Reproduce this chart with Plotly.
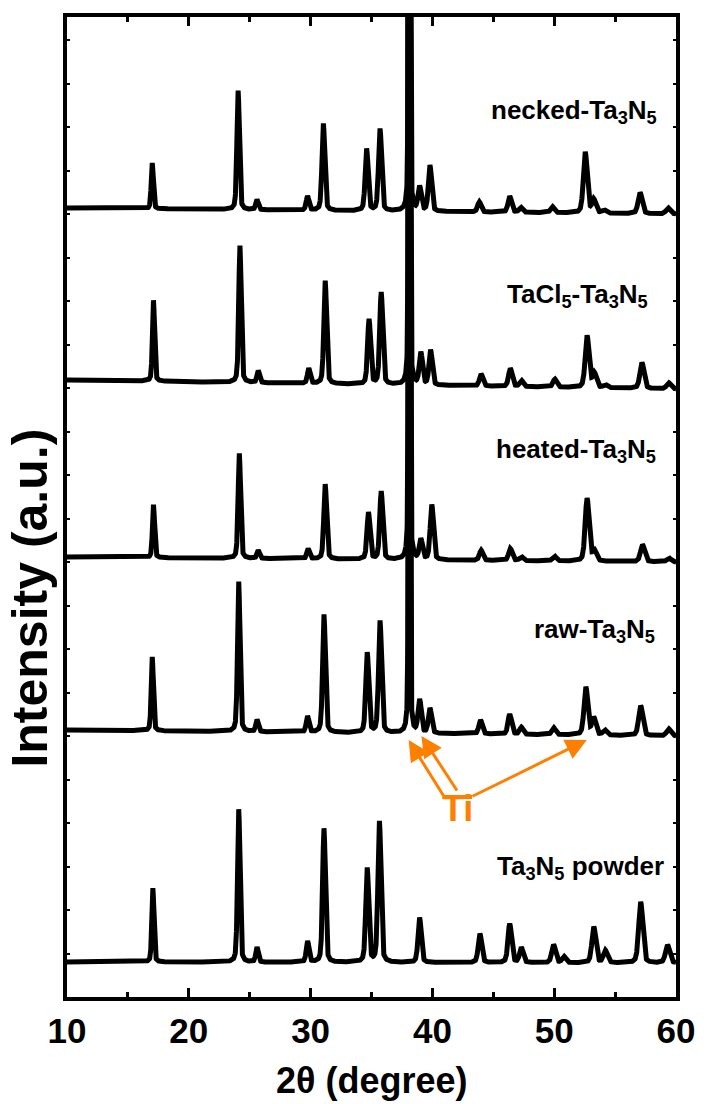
import numpy as np
import plotly.graph_objects as go

# ---------------- data ----------------
sample_labels = [
    "necked-Ta<sub>3</sub>N<sub>5</sub>",
    "TaCl<sub>5</sub>-Ta<sub>3</sub>N<sub>5</sub>",
    "heated-Ta<sub>3</sub>N<sub>5</sub>",
    "raw-Ta<sub>3</sub>N<sub>5</sub>",
    "Ta<sub>3</sub>N<sub>5</sub> powder",
]
# baseline level (stacked offset, a.u.) at 2θ = 10 and 2θ = 60
baseline_start = [789, 617, 440, 267, 35]
baseline_end = [783, 608, 435, 261, 34]

necked_pos = [17.0, 24.05, 25.6, 29.75, 31.05, 34.6, 35.7, 38.95, 39.8, 43.85, 46.35, 47.25, 49.85, 52.55, 53.25, 54.1, 57.05, 59.35]
necked_int = [46, 119, 10, 14, 87, 62, 82, 24, 46, 10, 16, 5, 6, 61, 13, 3, 21, 6]

tacl5_pos = [17.1, 24.2, 25.7, 29.85, 31.2, 34.8, 35.8, 39.05, 39.85, 44.0, 46.4, 47.3, 50.05, 52.7, 53.3, 54.2, 57.2, 59.4]
tacl5_int = [81, 137, 12, 15, 103, 65, 92, 32, 35, 12, 18, 6, 8, 52, 14, 3, 26, 6]

heated_pos = [17.1, 24.15, 25.7, 29.8, 31.2, 34.75, 35.8, 39.05, 39.95, 44.0, 46.4, 47.3, 50.0, 52.7, 53.3, 57.25, 59.4]
heated_int = [53, 105, 8, 10, 75, 47, 68, 20, 55, 10, 12, 4, 5, 63, 10, 17, 4]

raw_pos = [17.0, 24.1, 25.6, 29.75, 31.1, 34.65, 35.7, 38.95, 39.8, 43.95, 46.35, 47.3, 49.95, 52.6, 53.25, 54.15, 57.1, 59.4]
raw_int = [74, 150, 12, 16, 118, 80, 112, 33, 25, 14, 20, 7, 7, 48, 17, 5, 30, 7]

powder_pos = [17.05, 24.1, 25.6, 29.75, 31.1, 34.65, 35.65, 38.95, 43.9, 46.35, 47.3, 49.95, 50.8, 53.25, 54.2, 57.1, 59.3]
powder_int = [74, 153, 15, 21, 134, 94, 141, 45, 29, 39, 15, 18, 6, 36, 12, 61, 18]

# Ti reflection at 38.1° (runs off the top of the frame)
ti_pos = 38.1
ti_int = [1400, 1400, 1400, 1400, 0]

x_ticks = [10, 20, 30, 40, 50, 60]

series_pos = [necked_pos, tacl5_pos, heated_pos, raw_pos, powder_pos]
series_int = [necked_int, tacl5_int, heated_int, raw_int, powder_int]

# ---------------- rendering ----------------
grid = np.linspace(10, 60, 5001)


def peak(x, x0, h, fwhm, eta=0.35):
    d = (x - x0) / fwhm
    g = np.exp(-4 * np.log(2) * d * d)
    lo = 1.0 / (1.0 + 4 * d * d)
    return h * (eta * lo + (1 - eta) * g)


fig = go.Figure()
for i in range(5):
    y = np.interp(grid, [10, 60], [baseline_start[i], baseline_end[i]])
    for p, h in zip(series_pos[i], series_int[i]):
        fw = 0.17 + 0.0045 * (p - 10)
        y = y + peak(grid, p, h, fw)
    if ti_int[i] > 0:
        y = y + peak(grid, ti_pos, ti_int[i], 0.12, 0.2)
    fig.add_trace(go.Scatter(x=grid, y=y, mode="lines",
                             line=dict(color="black", width=5),
                             showlegend=False, hoverinfo="skip"))

FONT = "Liberation Sans, Arial, sans-serif"

fig.update_layout(
    width=707, height=1104,
    margin=dict(l=67, r=25, t=17, b=107),
    plot_bgcolor="white", paper_bgcolor="white",
    font=dict(family=FONT, color="black"),
    showlegend=False,
)

fig.update_xaxes(
    range=[10, 60], tickvals=x_ticks, ticktext=[str(v) for v in x_ticks],
    ticks="inside", ticklen=9, tickwidth=3, tickcolor="black",
    showline=True, linewidth=4, linecolor="black", mirror="ticks",
    showgrid=False, zeroline=False,
    tickfont=dict(family=FONT, size=35, weight="bold"),
    minor=dict(tickvals=[15, 25, 35, 45, 55], ticks="inside", ticklen=5,
               tickwidth=3, tickcolor="black", showgrid=False),
    ticklabelstandoff=0,
)
fig.update_yaxes(
    range=[0, 980], showticklabels=False, tick0=0, dtick=43.5,
    ticks="inside", ticklen=3, tickwidth=2, tickcolor="black",
    showline=True, linewidth=4, linecolor="black", mirror="ticks",
    showgrid=False, zeroline=False,
)

# axis titles
fig.add_annotation(xref="paper", yref="paper", x=0.5, y=-0.085,
                   text="<b>2θ (degree)</b>", showarrow=False,
                   font=dict(family=FONT, size=36), xanchor="center", yanchor="middle")
fig.add_annotation(xref="paper", yref="paper", x=-0.060, y=0.407,
                   text="<b>Intensity (a.u.)</b>", showarrow=False, textangle=-90,
                   font=dict(family=FONT, size=50), xanchor="center", yanchor="middle")

# sample labels
label_x = [58.6, 57.9, 58.5, 58.4, 59.2]
label_y = [886, 702, 547, 367, 130]
for t, lx, ly in zip(sample_labels, label_x, label_y):
    fig.add_annotation(x=lx, y=ly, text="<b>" + t + "</b>", showarrow=False,
                       xanchor="right", yanchor="middle",
                       font=dict(family=FONT, size=26, color="black"))

# Ti annotation
ORANGE = "#FF8000"
arrows = [((40.98, 200), (38.05, 257)), ((42.1, 205), (39.1, 261)), ((43.17, 200), (52.68, 257))]
for (tx, ty), (hx, hy) in arrows:
    fig.add_annotation(x=hx, y=hy, ax=tx, ay=ty, xref="x", yref="y", axref="x", ayref="y",
                       text="", showarrow=True, arrowhead=2, arrowsize=1.4, arrowwidth=3,
                       arrowcolor=ORANGE)
fig.add_shape(type="line", x0=40.9, x1=43.25, y0=200, y1=200,
              line=dict(color=ORANGE, width=4))
fig.add_annotation(x=42.1, y=211, text="<b>Ti</b>", showarrow=False,
                   xanchor="center", yanchor="top",
                   font=dict(family=FONT, size=36, color=ORANGE))

fig.write_html("out.html")
